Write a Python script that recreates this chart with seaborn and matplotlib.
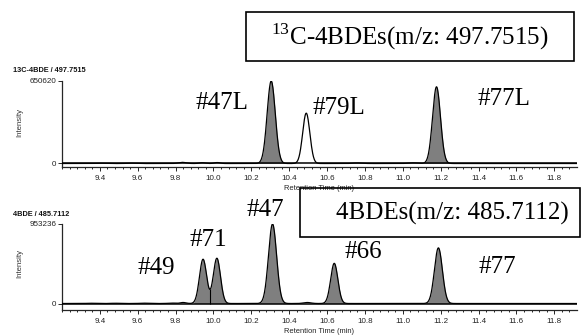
import numpy as np
import pandas as pd
import matplotlib
matplotlib.use("Agg")
import matplotlib.pyplot as plt
from matplotlib.patches import Rectangle
from matplotlib.ticker import FixedLocator
import seaborn as sns

# ---- peak tables (retention time in min, apex intensity, peak sigma in min) ----
# 13C-labelled standards, m/z 497.7515
std_title = "13C-4BDE / 497.7515"
std_max = 650620
std_rt = [10.305, 10.490, 11.178, 9.40, 9.56, 9.835, 9.94, 10.02, 10.76, 11.055]
std_height = [650620, 397000, 605000, 2000, 2500, 9000, 6000, 7500, 4000, 5000]
std_sigma = [0.0215, 0.019, 0.021, 0.02, 0.02, 0.02, 0.015, 0.015, 0.025, 0.025]
std_fill = [(10.235, 10.375), (11.11, 11.25)]
std_names = ["#47L", "#79L", "#77L"]

# native congeners, m/z 485.7112
nat_title = "4BDE / 485.7112"
nat_max = 953236
nat_rt = [9.945, 10.018, 10.312, 10.638, 11.188, 9.35, 9.48, 9.63, 9.78, 9.84, 10.495]
nat_height = [531000, 543000, 953236, 482000, 667000, 3000, 3000, 4000, 5000, 12000, 12000]
nat_sigma = [0.019, 0.019, 0.0215, 0.019, 0.021, 0.02, 0.02, 0.02, 0.02, 0.015, 0.02]
nat_fill = [(9.895, 10.075), (10.245, 10.385), (10.57, 10.705), (11.115, 11.30)]
nat_drop = [9.983]
nat_names = ["#49", "#71", "#47", "#66", "#77"]

x_major = [9.4, 9.6, 9.8, 10.0, 10.2, 10.4, 10.6, 10.8, 11.0, 11.2, 11.4, 11.6, 11.8]
x_lim = (9.2, 11.92)


def trace(rt, height, sigma):
    t = np.arange(x_lim[0], x_lim[1] + 1e-9, 0.002)
    y = np.zeros_like(t)
    for r, h, s in zip(rt, height, sigma):
        y += h * np.exp(-0.5 * ((t - r) / s) ** 2)
    return pd.DataFrame({"time": t, "intensity": y})


W, H = 581, 335
fig = plt.figure(figsize=(W / 100, H / 100), dpi=100)
sns.set_style("ticks")
plt.rcParams["font.family"] = ["Liberation Sans", "DejaVu Sans"]
plt.rcParams["mathtext.fontset"] = "custom"
plt.rcParams["mathtext.rm"] = "Liberation Serif"


def fx(px):
    return px / W


def fy(py):
    return 1 - py / H


def panel(top_px, bottom_px, zero_px, data, ymax, fills, title, title_y, drops=()):
    ax = fig.add_axes([fx(62), fy(bottom_px), fx(577) - fx(62), (bottom_px - top_px) / H])
    # y range so that the baseline sits a little above the time axis
    frac = (bottom_px - zero_px) / (zero_px - top_px)
    ax.set_ylim(-frac * ymax, ymax)
    ax.set_xlim(*x_lim)

    t = data["time"].to_numpy()
    y = data["intensity"].to_numpy()
    for a, b in fills:
        m = (t >= a) & (t <= b)
        ax.fill_between(t[m], 0, y[m], color="#7f7f7f", lw=0, zorder=2)
    for d in drops:
        ax.vlines(d, 0, np.interp(d, t, y), color="black", lw=0.8, zorder=3)
    ax.axhline(0, color="black", lw=1.1, zorder=3)
    sns.lineplot(data=data, x="time", y="intensity", ax=ax, color="black",
                 lw=0.9, zorder=4, estimator=None, sort=False)

    sns.despine(ax=ax)
    for s in ("left", "bottom"):
        ax.spines[s].set_linewidth(0.9)
    ax.xaxis.set_major_locator(FixedLocator(x_major))
    ax.xaxis.set_minor_locator(FixedLocator(np.round(np.arange(9.2, 11.9, 0.04), 2)))
    ax.set_xticklabels([f"{v:.1f}" for v in x_major])
    ax.set_yticks([0, ymax])
    ax.set_yticklabels(["0", str(ymax)])
    ax.tick_params(axis="x", which="major", length=3.0, width=0.7, pad=2.6,
                   labelsize=5.8, labelcolor="#222222")
    ax.tick_params(axis="x", which="minor", length=1.6, width=0.7)
    ax.tick_params(axis="y", length=3.0, width=0.7, pad=1.0, labelsize=5.8,
                   labelcolor="#222222")
    ax.set_xlabel("Retention Time (min)", fontsize=5.4, color="#222222", labelpad=2.0)
    ax.set_ylabel("")
    fig.text(fx(20), fy((top_px + zero_px) / 2), "Intensity", rotation=90,
             fontsize=5.6, color="#333333", ha="center", va="center")
    fig.text(fx(13), fy(title_y), title, fontsize=5.3, fontweight="bold",
             ha="left", va="center", color="#111111")
    return ax


std = trace(std_rt, std_height, std_sigma)
nat = trace(nat_rt, nat_height, nat_sigma)

panel(81, 167, 163.5, std, std_max, std_fill, std_title, 70)
panel(224, 310, 303.5, nat, nat_max, nat_fill, nat_title, 214, drops=nat_drop)

serif = ["Liberation Serif", "DejaVu Serif"]
big = 18

# peak labels
label_pos = {
    "#47L": (222, 103), "#79L": (339, 108), "#77L": (504, 99),
    "#49": (156, 268), "#71": (208, 240), "#47": (265, 210),
    "#66": (363, 252), "#77": (497, 267),
}
for name in std_names + nat_names:
    px, py = label_pos[name]
    fig.text(fx(px), fy(py), name, family=serif, fontsize=big,
             ha="center", va="center", color="black")

# boxed trace captions
fig.patches.append(Rectangle((fx(246), fy(61)), fx(574) - fx(246), (61 - 12) / H,
                             transform=fig.transFigure, fill=False,
                             edgecolor="black", lw=1.2, zorder=10))
fig.text(fx(410), fy(37), r"$^{13}$C-4BDEs(m/z: 497.7515)", family=serif,
         fontsize=big, ha="center", va="center", color="black")

fig.patches.append(Rectangle((fx(300), fy(237)), fx(579.5) - fx(300), (237 - 188) / H,
                             transform=fig.transFigure, fill=False,
                             edgecolor="black", lw=1.2, zorder=10))
fig.text(fx(452), fy(213), "4BDEs(m/z: 485.7112)", family=serif,
         fontsize=big, ha="center", va="center", color="black")

fig.savefig("out.png", dpi=100)
